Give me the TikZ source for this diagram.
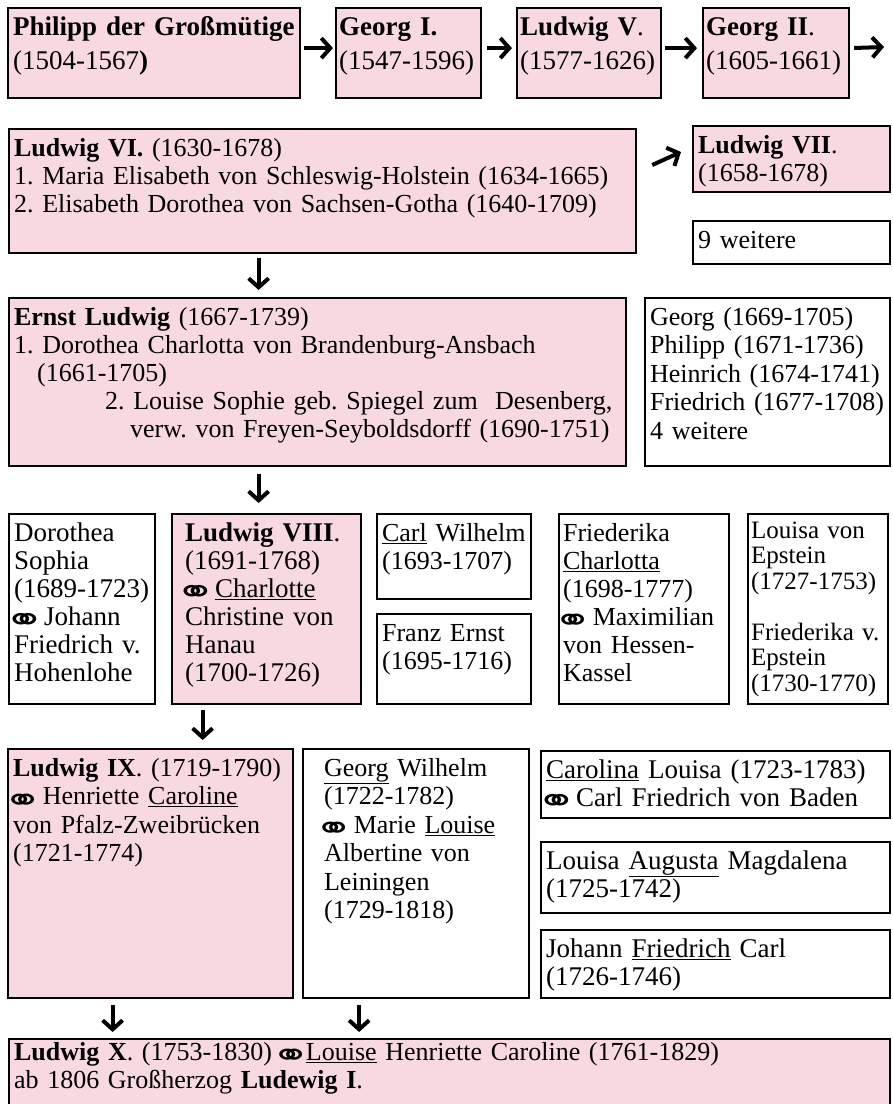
\documentclass[tikz,border=0pt]{standalone}
\usepackage{fontspec}
\usepackage{graphicx}
\setmainfont{Liberation Serif}
\newfontfamily\marrfont{DejaVu Sans}
\usetikzlibrary{arrows.meta}

\definecolor{hessrose}{RGB}{248,217,225}
\newcommand{\marr}{{\marrfont\bfseries\makebox[21pt]{\smash{\raisebox{-6.5pt}{\scalebox{1.8}[1.25]{⚭}}}}}}

\begin{document}
\frenchspacing
\begin{tikzpicture}[x=1pt, y=-1pt,
  famnode/.style={draw, line width=2.2pt, anchor=north west, align=left,
    inner xsep=5pt, inner ysep=5pt, text height=22pt,
    font=\fontsize{27}{28}\selectfont},
  ruler/.style={famnode, fill=hessrose},
  arr/.style={line width=4pt, -{Straight Barb[length=9pt,width=20pt,line width=4pt]}}]
  \useasboundingbox (0,0) rectangle (893,1104);

  % Landgrafen der Reihe nach
  \node[ruler, text width=282pt, text depth=58pt, font=\fontsize{27}{34}\selectfont] (philipp) at (7,7)
    {{\bfseries Philipp der Großmütige}\\(1504-1567{\bfseries )}};
  \node[ruler, inner xsep=3pt, text width=139pt, text depth=58pt, font=\fontsize{27}{34}\selectfont] (georgone) at (335,7)
    {{\bfseries Georg I.}\\(1547-1596)};
  \node[ruler, inner xsep=3pt, text width=138pt, text depth=58pt, font=\fontsize{27}{34}\selectfont] (ludwigfive) at (516,7)
    {{\bfseries Ludwig V}.\\(1577-1626)};
  \node[ruler, inner xsep=3pt, text width=140pt, text depth=58pt, font=\fontsize{27}{34}\selectfont] (georgtwo) at (702,7)
    {{\bfseries Georg II}.\\(1605-1661)};
  \coordinate (rowend) at (884,47);

  \node[ruler, text width=617pt, text depth=92pt, font=\fontsize{26}{28}\selectfont] (ludwigsix) at (8,128)
    {{\bfseries Ludwig VI.} (1630-1678)\\
     1. Maria Elisabeth von Schleswig-Holstein (1634-1665)\\
     2. Elisabeth Dorothea von Sachsen-Gotha (1640-1709)};
  \node[ruler, text width=187pt, text depth=34pt, font=\fontsize{26}{28}\selectfont] (ludwigseven) at (692,125)
    {{\bfseries Ludwig VII}.\\(1658-1678)};
  \node[famnode, text width=187pt, text depth=11pt, font=\fontsize{26}{28}\selectfont] (nineothers) at (692,220)
    {9 weitere};

  \node[ruler, text width=607pt, text depth=136pt, font=\fontsize{26}{28}\selectfont] (ernst) at (8,297)
    {{\bfseries Ernst Ludwig} (1667-1739)\\
     1. Dorothea Charlotta von Brandenburg-Ansbach\\
     \hspace*{23pt}(1661-1705)\\
     \hspace*{91pt}2. Louise Sophie geb. Spiegel zum\ \ Desenberg,\\
     \hspace*{116pt}verw. von Freyen-Seyboldsdorff (1690-1751)};
  \node[famnode, text width=235pt, text depth=136pt, font=\fontsize{26}{28.5}\selectfont] (ernstsibs) at (644,297)
    {Georg (1669-1705)\\Philipp (1671-1736)\\Heinrich (1674-1741)\\Friedrich (1677-1708)\\4 weitere};

  % Kinder Ernst Ludwigs
  \node[famnode, text width=136pt, text depth=158pt] (dorothea) at (8,513)
    {Dorothea\\Sophia\\(1689-1723)\\\marr{} Johann\\Friedrich v.\\Hohenlohe};
  \node[ruler, inner xsep=13pt, text width=163pt, text depth=158pt] (ludwigeight) at (171,513)
    {{\bfseries Ludwig VIII}.\\(1691-1768)\\\marr{} \underline{Charlotte}\\Christine von\\Hanau\\(1700-1726)};
  \node[famnode, text width=144pt, text depth=53pt, font=\fontsize{26}{28}\selectfont] (carlwilhelm) at (376,513)
    {\underline{Carl} Wilhelm\\(1693-1707)};
  \node[famnode, text width=144pt, text depth=58pt, font=\fontsize{26}{28}\selectfont] (franzernst) at (376,613)
    {Franz Ernst\\(1695-1716)};
  \node[famnode, inner xsep=4pt, text width=162pt, text depth=158pt, font=\fontsize{26}{28}\selectfont] (friederika) at (558,513)
    {Friederika\\\underline{Charlotta}\\(1698-1777)\\\marr{} Maximilian\\von Hessen-\\Kassel};
  \node[famnode, inner xsep=3pt, text width=134pt, text depth=161pt, text height=19pt,
    font=\fontsize{25}{25.5}\selectfont] (epstein) at (747,513)
    {Louisa von\\Epstein\\(1727-1753)\\[25.5pt]Friederika v.\\Epstein\\(1730-1770)};

  % Kinder Ludwigs VIII.
  \node[ruler, text width=275pt, text depth=217pt, font=\fontsize{26}{28.5}\selectfont] (ludwignine) at (7,748)
    {{\bfseries Ludwig IX}. (1719-1790)\\\marr{} Henriette \underline{Caroline}\\von Pfalz-Zweibrücken\\(1721-1774)};
  \node[famnode, inner xsep=21pt, text width=184pt, text depth=217pt, font=\fontsize{26}{28.5}\selectfont] (georgwilhelm) at (302,748)
    {\underline{Georg} Wilhelm\\(1722-1782)\\\marr{} Marie \underline{Louise}\\Albertine von\\Leiningen\\(1729-1818)};
  \node[famnode, text width=339pt, text depth=35pt] (carolina) at (540,750)
    {\underline{Carolina} Louisa (1723-1783)\\\marr{} Carl Friedrich von Baden};
  \node[famnode, text width=339pt, text depth=39pt] (augusta) at (540,841)
    {Louisa \underline{Augusta} Magdalena\\(1725-1742)};
  \node[famnode, text width=339pt, text depth=36pt] (johannfr) at (540,929)
    {Johann \underline{Friedrich} Carl\\(1726-1746)};

  \node[ruler, text width=871pt, text height=16pt, text depth=58pt, font=\fontsize{26}{28}\selectfont] (ludwigten) at (8,1038)
    {{\bfseries Ludwig X}. (1753-1830) \marr{}\,\underline{Louise} Henriette Caroline (1761-1829)\\
     ab 1806 Großherzog {\bfseries Ludewig I}.};

  % Pfeile
  \draw[arr, shorten <=3pt, shorten >=2pt] ([yshift=5pt]philipp.east) -- ([yshift=5pt]georgone.west);
  \draw[arr, shorten <=5pt, shorten >=4pt] ([yshift=5pt]georgone.east) -- ([yshift=5pt]ludwigfive.west);
  \draw[arr, shorten <=3pt, shorten >=5pt] ([yshift=5pt]ludwigfive.east) -- ([yshift=5pt]georgtwo.west);
  \draw[arr, shorten <=4pt] ([yshift=5pt]georgtwo.east) -- (rowend);
  \draw[arr] ([xshift=15pt,yshift=-37pt]ludwigsix.north east) -- ([xshift=-11pt,yshift=-27pt]ludwigseven.north west);
  \draw[arr, shorten <=4pt, shorten >=7pt] ([xshift=-64pt]ludwigsix.south) -- ([xshift=-64pt]ludwigsix.south |- ernst.north);
  \draw[arr, shorten <=7pt, shorten >=10pt] ([xshift=-8pt]ludwigeight.north |- ernst.south) -- ([xshift=-8pt]ludwigeight.north);
  \draw[arr, shorten <=5pt, shorten >=8pt] ([xshift=-64pt]ludwigeight.south) -- ([xshift=-64pt]ludwigeight.south |- ludwignine.north);
  \draw[arr, shorten <=6pt, shorten >=6pt] ([xshift=-38pt]ludwignine.south) -- ([xshift=-38pt]ludwignine.south |- ludwigten.north);
  \draw[arr, shorten <=6pt, shorten >=6pt] ([xshift=-57pt]georgwilhelm.south) -- ([xshift=-57pt]georgwilhelm.south |- ludwigten.north);
\end{tikzpicture}
\end{document}
